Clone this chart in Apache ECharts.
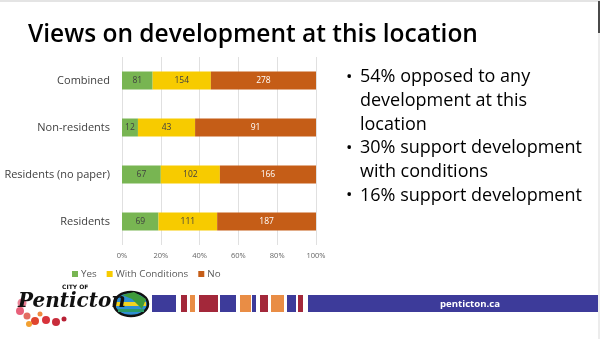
<!DOCTYPE html>
<html><head><meta charset="utf-8">
<script src="https://cdn.jsdelivr.net/npm/echarts@6/dist/echarts.min.js"></script>
<style>html,body{margin:0;padding:0;background:#fff}#c{width:600px;height:339px}</style>
</head><body><div id="c"></div>
<script>
const categories = ['Residents', 'Residents (no paper)', 'Non-residents', 'Combined'];
const yesCounts = [69, 67, 12, 81];
const conditionCounts = [111, 102, 43, 154];
const noCounts = [187, 166, 91, 278];
const seriesNames = ['Yes', 'With Conditions', 'No'];
const xTicks = [0, 20, 40, 60, 80, 100];
const title = 'Views on development at this location';
const bullets = [
  ['54% opposed to any', 'development at this', 'location'],
  ['30% support development', 'with conditions'],
  ['16% support development']
];

const totals = categories.map((c, i) => yesCounts[i] + conditionCounts[i] + noCounts[i]);
const pct = arr => arr.map((v, i) => v / totals[i] * 100);
const FONT = 'Open Sans';
const colors = ['#78b552', '#f7cb00', '#c55d17'];

function mkSeries(name, counts, color, labelColor) {
  return {
    name, type: 'bar', stack: 'all', barWidth: 18,
    data: pct(counts),
    itemStyle: { color },
    label: { show: true, position: 'inside', color: labelColor, fontSize: 8.5, fontFamily: FONT,
      formatter: p => String(counts[p.dataIndex]) },
    emphasis: { disabled: true }
  };
}

const g = [];
g.push({ type: 'rect', shape: { x: 0, y: 0, width: 600, height: 2 }, style: { fill: '#e4e4e4' } });
g.push({ type: 'rect', shape: { x: 598, y: 2, width: 2, height: 337 }, style: { fill: '#ececec' } });
g.push({ type: 'rect', shape: { x: 598, y: 1, width: 2, height: 32 }, style: { fill: '#4a4a4a' } });
g.push({ type: 'text', x: 28, y: 35, style: { text: title, fontFamily: FONT, fontWeight: 600, fontSize: 24.5, fill: '#000', verticalAlign: 'middle' } });
let ly = 77;
bullets.forEach(lines => {
  g.push({ type: 'text', x: 346, y: ly, style: { text: '•', fontFamily: FONT, fontSize: 17, fill: '#000', verticalAlign: 'middle' } });
  lines.forEach(t => {
    g.push({ type: 'text', x: 360, y: ly, style: { text: t, fontFamily: FONT, fontSize: 18, fill: '#000', verticalAlign: 'middle' } });
    ly += 23.7;
  });
});
const stripes = [
  [152, 24, '#3d3b9a'], [181, 6, '#a3283a'], [190, 5, '#e98d45'], [199, 19, '#a3283a'],
  [220, 16, '#3d3b9a'], [240, 11, '#e98d45'], [252, 4, '#3d3b9a'], [260, 8, '#a3283a'],
  [271, 13, '#e98d45'], [287, 9, '#3d3b9a'], [298, 5, '#a3283a'], [308, 290, '#3d3b9a']
];
stripes.forEach(s => g.push({ type: 'rect', shape: { x: s[0], y: 295, width: s[1], height: 17 }, style: { fill: s[2] } }));
g.push({ type: 'text', x: 440, y: 304, style: { text: 'penticton.ca', fontFamily: FONT, fontWeight: 'bold', fontSize: 9.6, fill: '#fff', verticalAlign: 'middle' } });
// logo approximation
const flowers = [[22, 303, 4.5, '#ea8296'], [20, 311, 4, '#e8607a'], [27, 316, 3.5, '#e36c62'], [35, 321, 4, '#e0452f'], [46, 320, 4, '#d8333b'], [56, 322, 4, '#c82d3b'], [64, 319, 2.5, '#b82035'], [29, 324, 3, '#f2a030'], [40, 314, 2.5, '#f08a40']];
flowers.forEach(f => g.push({ type: 'circle', shape: { cx: f[0], cy: f[1], r: f[2] }, style: { fill: f[3] } }));
g.push({ type: 'ellipse', shape: { cx: 131, cy: 304, rx: 17, ry: 12 }, style: { fill: '#2f8fd2', stroke: '#111', lineWidth: 2.5 } });
g.push({ type: 'rect', shape: { x: 116, y: 302, width: 30, height: 4 }, style: { fill: '#f2d320' } });
g.push({ type: 'polygon', shape: { points: [[122, 295], [134, 292], [146, 299], [142, 309], [132, 299]] }, style: { fill: '#3e9a3a' } });
g.push({ type: 'rect', shape: { x: 118, y: 309, width: 26, height: 3 }, style: { fill: '#2a9b6a' } });
g.push({ type: 'text', x: 62, y: 287, style: { text: 'CITY OF', fontFamily: 'DejaVu Sans', fontWeight: 'bold', fontSize: 6, fill: '#111', verticalAlign: 'middle' } });
g.push({ type: 'text', x: 18, y: 302, style: { text: 'Penticton', fontFamily: 'DejaVu Serif', fontStyle: 'italic', fontWeight: 'bold', fontSize: 20, fill: '#111', verticalAlign: 'middle' } });

const chart = echarts.init(document.getElementById('c'), null, { renderer: 'canvas' });
chart.setOption({
  animation: false,
  grid: { left: 122, right: 284, top: 57, bottom: 94, containLabel: false },
  legend: {
    data: seriesNames, left: 67, top: 264, itemWidth: 6, itemHeight: 6, itemGap: 10,
    icon: 'rect', textStyle: { fontFamily: FONT, fontSize: 9.8, color: '#595959', padding: [0, 0, 0, -2] }
  },
  xAxis: {
    type: 'value', min: xTicks[0], max: xTicks[xTicks.length - 1], interval: 20,
    axisLine: { show: false }, axisTick: { show: false },
    splitLine: { lineStyle: { color: '#e0e0e0', width: 1 } },
    axisLabel: { formatter: '{value}%', fontFamily: FONT, fontSize: 7.5, color: '#666', margin: 7 }
  },
  yAxis: {
    type: 'category', data: categories,
    axisLine: { show: false }, axisTick: { show: false },
    axisLabel: { fontFamily: FONT, fontSize: 11, color: '#404040', margin: 12 }
  },
  series: [
    mkSeries(seriesNames[0], yesCounts, colors[0], '#404040'),
    mkSeries(seriesNames[1], conditionCounts, colors[1], '#404040'),
    mkSeries(seriesNames[2], noCounts, colors[2], '#ffffff')
  ],
  graphic: g
});
</script></body></html>
